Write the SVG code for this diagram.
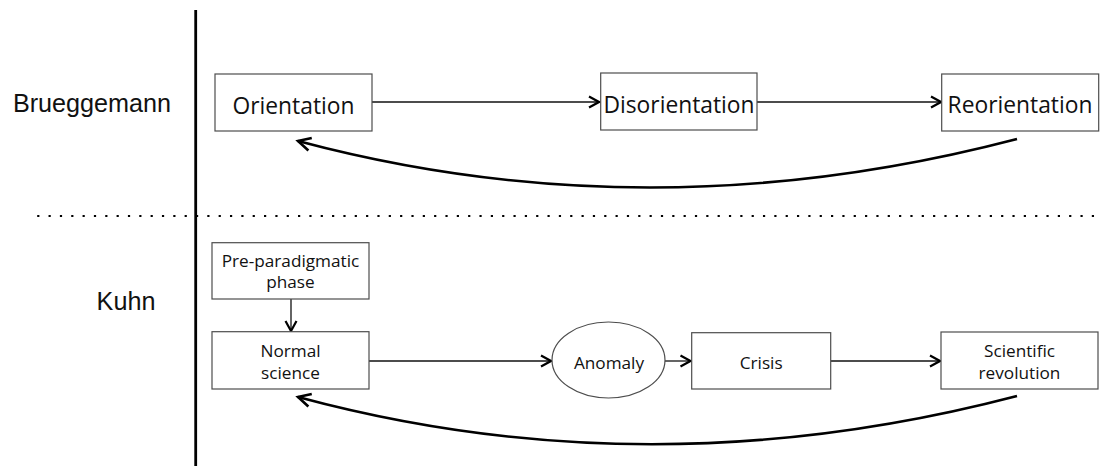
<svg xmlns="http://www.w3.org/2000/svg" width="1100" height="466" viewBox="0 0 1100 466">
  <defs>
    <style>
      .box { fill: #ffffff; stroke: #4d4d4d; stroke-width: 1.2; }
      .lbl { font-family: "Open Sans", "Noto Sans", "Liberation Sans", sans-serif; fill: #111; text-anchor: middle; }
      .big { font-size: 22.8px; }
      .small { font-size: 17.2px; }
      .side { font-family: "Liberation Sans", Arial, sans-serif; font-size: 25.2px; fill: #111; text-anchor: middle; }
      .link { fill: none; stroke: #111; stroke-width: 1.3; }
      .loop { fill: none; stroke: #000; stroke-width: 2.6; }
    </style>
    <marker id="chev" markerUnits="userSpaceOnUse" markerWidth="14" markerHeight="14" viewBox="-12 -7 14 14" refX="0" refY="0" orient="auto">
      <path d="M-10,-5.5 L0,0 L-10,5.5" fill="none" stroke="#000" stroke-width="2.2" stroke-linejoin="miter"/>
    </marker>
    <marker id="chevBig" markerUnits="userSpaceOnUse" markerWidth="18" markerHeight="18" viewBox="-15 -9 18 18" refX="0" refY="0" orient="auto">
      <path d="M-12.5,-6.5 L0,0 L-12.5,6.5" fill="none" stroke="#000" stroke-width="2.6"/>
    </marker>
  </defs>

  <!-- frame: vertical divider and dotted separator -->
  <line x1="195.7" y1="10" x2="195.7" y2="466" stroke="#000" stroke-width="2.8"/>
  <line x1="37.2" y1="216" x2="1095" y2="216" stroke="#000" stroke-width="2.2" stroke-dasharray="2.2 9.14"/>

  <!-- row labels -->
  <text class="side" x="92" y="112">Brueggemann</text>
  <text class="side" x="126" y="310">Kuhn</text>

  <!-- connectors -->
  <g id="connectors">
    <line class="link" x1="372" y1="102" x2="599" y2="102" marker-end="url(#chev)"/>
    <line class="link" x1="757" y1="102" x2="941" y2="102" marker-end="url(#chev)"/>
    <path class="loop" d="M1017,139 Q650,235 298,141" marker-end="url(#chevBig)"/>

    <line class="link" x1="291" y1="299" x2="291" y2="331" marker-end="url(#chev)"/>
    <line class="link" x1="369" y1="361" x2="551" y2="361" marker-end="url(#chev)"/>
    <line class="link" x1="665" y1="361" x2="690.5" y2="361" marker-end="url(#chev)"/>
    <line class="link" x1="830.7" y1="361" x2="940" y2="361" marker-end="url(#chev)"/>
    <path class="loop" d="M1017,396 Q650,492 298,397" marker-end="url(#chevBig)"/>
  </g>

  <!-- Brueggemann row -->
  <g id="orientation">
    <rect class="box" x="215" y="74" width="157" height="57"/>
    <text class="lbl big" x="293.5" y="114">Orientation</text>
  </g>
  <g id="disorientation">
    <rect class="box" x="600.7" y="73" width="156.3" height="57"/>
    <text class="lbl big" x="679" y="113">Disorientation</text>
  </g>
  <g id="reorientation">
    <rect class="box" x="941.7" y="74" width="157" height="57"/>
    <text class="lbl big" x="1020" y="113">Reorientation</text>
  </g>

  <!-- Kuhn row -->
  <g id="pre-paradigmatic">
    <rect class="box" x="212" y="242.7" width="157" height="56.3"/>
    <text class="lbl small" x="290.5" y="266.5">Pre-paradigmatic</text>
    <text class="lbl small" x="290.5" y="288">phase</text>
  </g>
  <g id="normal-science">
    <rect class="box" x="212" y="331.7" width="157" height="57.3"/>
    <text class="lbl small" x="290.5" y="357">Normal</text>
    <text class="lbl small" x="290.5" y="379.3">science</text>
  </g>
  <g id="anomaly">
    <ellipse cx="608.5" cy="360" rx="56.5" ry="38" fill="#fff" stroke="#4d4d4d" stroke-width="1.2"/>
    <text class="lbl small" x="609" y="369">Anomaly</text>
  </g>
  <g id="crisis">
    <rect class="box" x="691.7" y="332.7" width="139" height="56.3"/>
    <text class="lbl small" x="761.2" y="369">Crisis</text>
  </g>
  <g id="scientific-revolution">
    <rect class="box" x="941" y="332" width="157" height="57"/>
    <text class="lbl small" x="1019.5" y="356.7">Scientific</text>
    <text class="lbl small" x="1019.5" y="379.3">revolution</text>
  </g>
</svg>
